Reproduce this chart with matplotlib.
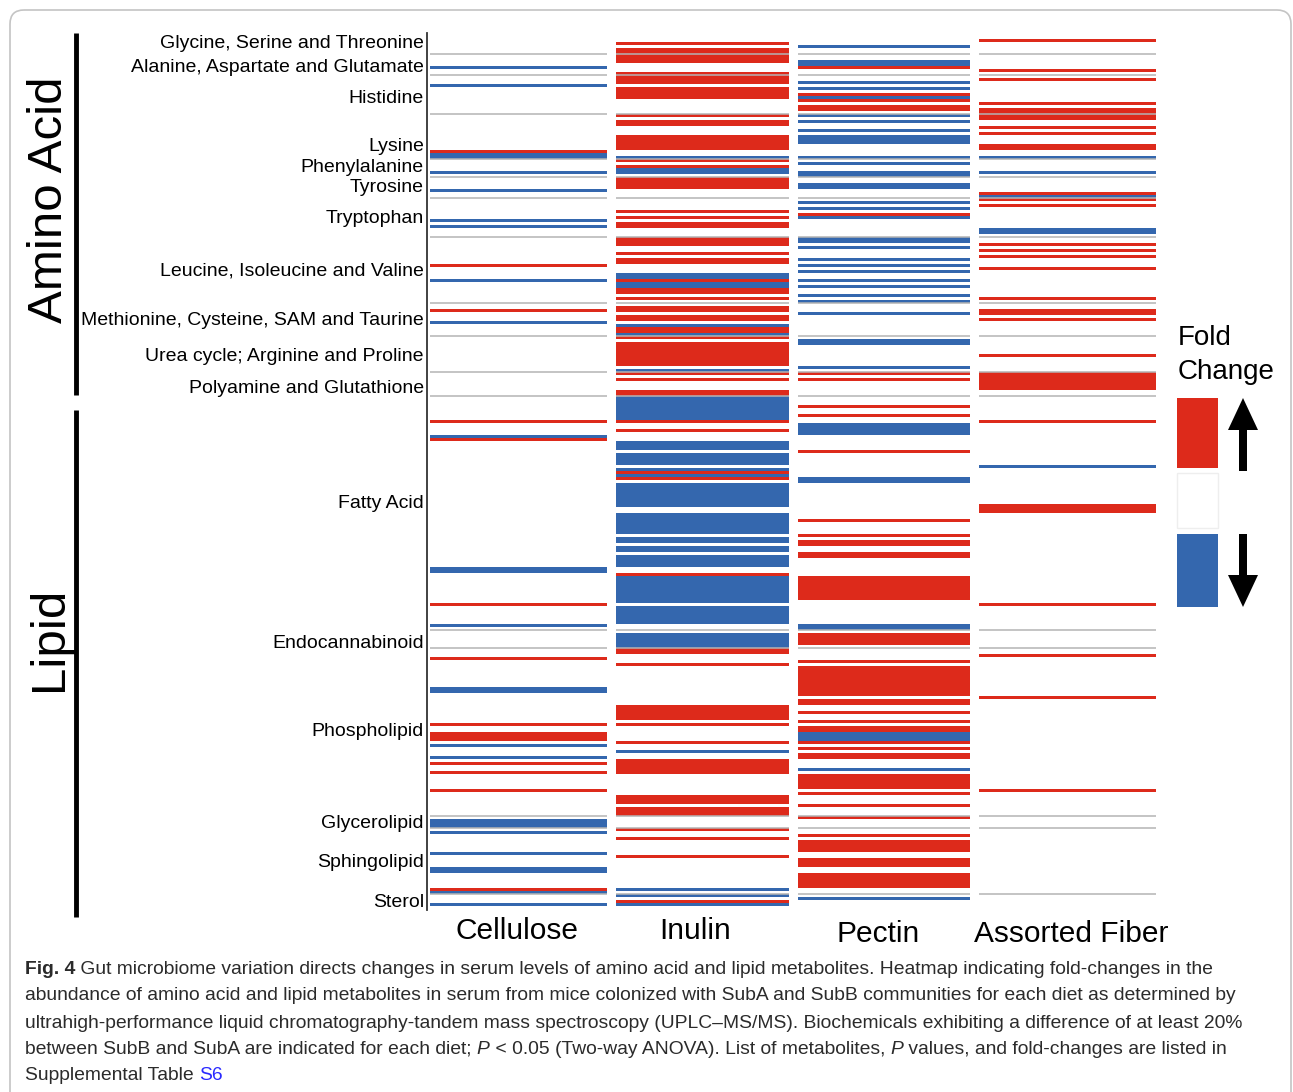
import numpy as np
import matplotlib.pyplot as plt
from matplotlib.patches import Rectangle, FancyArrow, FancyBboxPatch

plt.rcParams['font.family'] = ['Liberation Sans', 'DejaVu Sans']

RED = "#dd2a1b"
BLUE = "#3467ae"
SEP = "#b4b4b4"

# columns of the heatmap
diets = ["Cellulose", "Inulin", "Pectin", "Assorted Fiber"]

# metabolite groups (top to bottom) and how many metabolites (rows) each holds
groups = ["Glycine, Serine and Threonine", "Alanine, Aspartate and Glutamate",
          "Histidine", "Lysine", "Phenylalanine", "Tyrosine", "Tryptophan",
          "Leucine, Isoleucine and Valine", "Methionine, Cysteine, SAM and Taurine",
          "Urea cycle; Arginine and Proline", "Polyamine and Glutathione",
          "Fatty Acid", "Endocannabinoid", "Phospholipid", "Glycerolipid",
          "Sphingolipid", "Sterol"]
group_sizes = [5, 7, 13, 15, 6, 7, 13, 22, 11, 12, 8, 78, 6, 56, 4, 22, 4]
# row where each group label sits
label_rows = [1, 8.7, 19.3, 35.3, 42.3, 49, 59.3, 76.7, 93.3, 105.3, 115.7,
              154, 200.7, 230, 261, 273.7, 287.3]

# metabolite rows that went up (red) / down (blue), SubB vs SubA
cellulose_up = [37, 75, 90, 127, 133, 188, 206, 228, 231, 232, 233, 241, 244, 250, 283]
cellulose_down = [9, 15, 38, 39, 44, 50, 60, 62, 80, 94, 132, 176, 177, 195, 216, 217,
                  235, 239, 260, 261, 262, 264, 271, 276, 277, 284, 288]

inulin_up = [1, 3, 4, 5, 6, 7, 11, 12, 13, 14, 16, 17, 18, 19, 25, 27, 28,
             32, 33, 34, 35, 36, 40, 42, 46, 47, 48, 49, 57, 59, 61, 62, 66, 67, 68,
             71, 73, 74, 80, 83, 84, 86, 89, 90, 92, 93, 96, 97, 99,
             101, 102, 103, 104, 105, 106, 107, 108, 111, 113, 117, 118, 127, 130,
             144, 146, 178, 203, 204, 208, 222, 223, 224, 225, 226, 228, 234,
             240, 241, 242, 243, 244, 252, 253, 254, 256, 257, 258, 263, 266, 272, 287]
inulin_down = [39, 43, 44, 78, 79, 81, 82, 95, 98, 110,
               119, 120, 121, 122, 123, 124, 125, 126, 134, 135, 136, 138, 139, 140, 141,
               143, 145, 148, 149, 150, 151, 152, 153, 154, 155,
               158, 159, 160, 161, 162, 163, 164, 166, 167, 169, 170, 172, 173, 174, 175,
               179, 180, 181, 182, 183, 184, 185, 186, 187, 189, 190, 191, 192, 193, 194,
               198, 199, 200, 201, 202, 237, 283, 285, 288]

pectin_up = [9, 18, 20, 22, 23, 58, 111, 113, 122, 125, 137, 160, 165, 167, 168, 171, 172,
             179, 180, 181, 182, 183, 184, 185, 186, 198, 199, 200, 201, 207,
             209, 210, 211, 212, 213, 214, 215, 216, 217, 218, 220, 221, 224, 227, 229, 230,
             234, 236, 238, 239, 245, 246, 247, 248, 249, 251, 255, 259, 265,
             267, 268, 269, 270, 273, 274, 275, 278, 279, 280, 281, 282]
pectin_down = [2, 7, 8, 14, 16, 19, 25, 27, 30, 32, 33, 34, 39, 41, 44, 45, 48, 49, 54, 56,
               59, 66, 67, 69, 73, 75, 77, 80, 82, 85, 87, 91, 100, 101, 109,
               128, 129, 130, 131, 146, 147, 195, 196, 231, 232, 233, 243, 286]

assorted_up = [0, 10, 13, 21, 23, 24, 25, 26, 29, 31, 35, 36, 51, 53, 55, 68, 70, 72, 76,
               86, 90, 91, 93, 105, 111, 112, 113, 114, 115, 116, 127, 155, 156, 157,
               188, 205, 219, 250]
assorted_down = [39, 44, 52, 63, 64, 142]

changes = [(cellulose_up, cellulose_down), (inulin_up, inulin_down),
           (pectin_up, pectin_down), (assorted_up, assorted_down)]

W, H = 1293, 1092
fig = plt.figure(figsize=(W / 100, H / 100), dpi=100)

# full-figure overlay in pixel units for frame, legend, captions
bg = fig.add_axes([0, 0, 1, 1])
bg.set_xlim(0, W)
bg.set_ylim(H, 0)
bg.axis('off')
bg.add_patch(FancyBboxPatch((10, 10), 1281, 1200, boxstyle="round,pad=0,rounding_size=14",
                            fc='none', ec='#c4c4c4', lw=1.2))

# heatmap
top, bottom, left, right = 39, 906, 428, 1160
ax = fig.add_axes([left / W, 1 - bottom / H, (right - left) / W, (bottom - top) / H])
n_rows = sum(group_sizes)
ax.set_xlim(0, 4)
ax.set_ylim(n_rows, 0)
col_left = [0.01, 1.03, 2.02, 3.01]
col_width = [0.97, 0.94, 0.94, 0.97]
for i, (up, down) in enumerate(changes):
    x0, w = col_left[i], col_width[i]
    ax.barh(up, w, left=x0, height=1, align='edge', color=RED, linewidth=0)
    ax.barh(down, w, left=x0, height=1, align='edge', color=BLUE, linewidth=0)
    ax.hlines(np.cumsum(group_sizes)[:-1], x0, x0 + w, color=SEP, lw=1.1, zorder=3)

for s in ax.spines.values():
    s.set_visible(False)
ax.set_yticks(label_rows)
ax.set_yticklabels(groups, fontsize=14)
ax.tick_params(axis='y', length=0, pad=3)
ax.set_xticks([])
bg.plot([427, 427], [33, 910], color='#333333', lw=1.3)

# diet labels under the columns
for name, xc, yc in zip(diets, [517, 695, 878, 1071], [931, 931, 934, 934]):
    bg.text(xc, yc, name, fontsize=21.5, ha='center', va='center')

# section labels
bg.text(50, 200, "Amino Acid", rotation=90, fontsize=35.5, ha='center', va='center')
bg.plot([76, 76], [33, 395], color='black', lw=3.5, solid_capstyle='butt')
bg.text(50, 639, "Lipid", rotation=90, fontsize=35.5, ha='center', va='center')
bg.plot([76, 76], [410, 917], color='black', lw=3.5, solid_capstyle='butt')

# legend
bg.text(1178, 338, "Fold", fontsize=20, va='center')
bg.text(1178, 372, "Change", fontsize=20, va='center')
bg.add_patch(Rectangle((1177, 398), 41, 70, fc=RED, ec='none'))
bg.add_patch(Rectangle((1177, 473), 41, 55, fc='white', ec='#eeeeee', lw=1))
bg.add_patch(Rectangle((1177, 534), 41, 73, fc=BLUE, ec='none'))
bg.add_patch(FancyArrow(1243, 471, 0, -73, width=8, head_width=30, head_length=32,
                        length_includes_head=True, fc='black', ec='none'))
bg.add_patch(FancyArrow(1243, 534, 0, 73, width=8, head_width=30, head_length=32,
                        length_includes_head=True, fc='black', ec='none'))

# caption
renderer = fig.canvas.get_renderer()
caption = [
    [("Fig. 4", 'b'),
     (" Gut microbiome variation directs changes in serum levels of amino acid and lipid "
      "metabolites. Heatmap indicating fold-changes in the", '')],
    [("abundance of amino acid and lipid metabolites in serum from mice colonized with SubA "
      "and SubB communities for each diet as determined by", '')],
    [("ultrahigh-performance liquid chromatography-tandem mass spectroscopy (UPLC\u2013MS/MS). "
      "Biochemicals exhibiting a difference of at least 20%", '')],
    [("between SubB and SubA are indicated for each diet; ", ''), ("P", 'i'),
     (" < 0.05 (Two-way ANOVA). List of metabolites, ", ''), ("P", 'i'),
     (" values, and fold-changes are listed in", '')],
    [("Supplemental Table ", ''), ("S6", 'link')],
]
caption_y = [970, 996, 1023, 1049, 1076]


def draw_parts(y, parts, fs):
    x = 25
    texts = []
    for text, style in parts:
        kw = dict(fontsize=fs, color='#2b2b2b', va='center')
        if style == 'b':
            kw['weight'] = 'bold'
        elif style == 'i':
            kw['style'] = 'italic'
        elif style == 'link':
            kw['color'] = '#2a2aff'
        t = bg.text(x, y, text, **kw)
        texts.append(t)
        x += t.get_window_extent(renderer).width
    return x, texts


# size the caption so no line runs past the right end of its reference line
ends = [1240, 1268, 1242, 1226]
fs = 15
for parts, end in zip(caption[:4], ends):
    x_end, texts = draw_parts(0, parts, 15)
    fs = min(fs, 15 * (end - 25) / (x_end - 25))
    for t in texts:
        t.remove()
for y, parts in zip(caption_y, caption):
    draw_parts(y, parts, fs)

fig.savefig("out.png", dpi=100)
